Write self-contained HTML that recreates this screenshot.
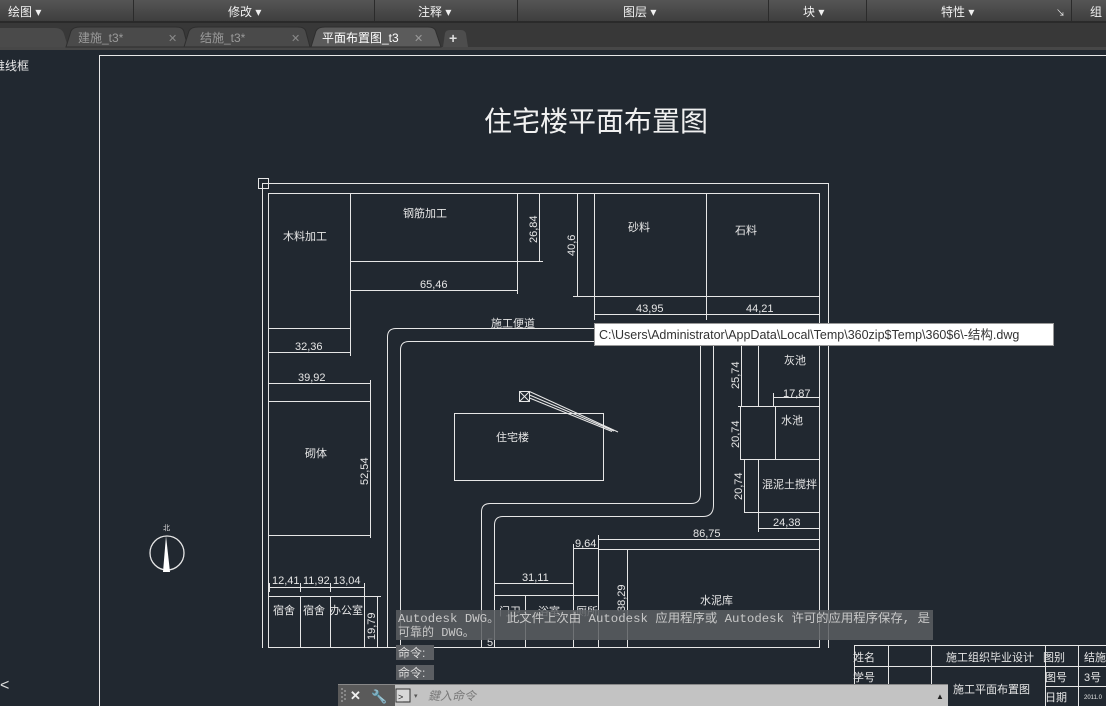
<!DOCTYPE html>
<html><head><meta charset="utf-8"><style>
html,body{margin:0;padding:0;width:1106px;height:706px;overflow:hidden;background:#212830;}
svg{display:block;}
text{font-family:"Liberation Sans","Noto Sans CJK SC",sans-serif;}
text.mono{font-family:"Liberation Mono","Noto Sans CJK SC",monospace;}
</style></head><body>
<svg width="1106" height="706" viewBox="0 0 1106 706" xmlns="http://www.w3.org/2000/svg">
<defs>
<linearGradient id="mb" x1="0" y1="0" x2="0" y2="1"><stop offset="0" stop-color="#555"/><stop offset="1" stop-color="#3d3d3d"/></linearGradient>
</defs>
<rect x="0" y="0" width="1106" height="22" fill="url(#mb)"/>
<rect x="0" y="21" width="1106" height="2" fill="#2a2a2a"/>
<g stroke="#2b2b2b" stroke-width="1">
<line x1="133.5" y1="0" x2="133.5" y2="21"/><line x1="374.5" y1="0" x2="374.5" y2="21"/><line x1="517.5" y1="0" x2="517.5" y2="21"/><line x1="768.5" y1="0" x2="768.5" y2="21"/><line x1="866.5" y1="0" x2="866.5" y2="21"/><line x1="1071.5" y1="0" x2="1071.5" y2="21"/>
</g>
<g fill="#f0f0f0" font-size="12">
<text x="8" y="16">绘图 ▾</text><text x="228" y="16">修改 ▾</text><text x="418" y="16">注释 ▾</text><text x="623" y="16">图层 ▾</text><text x="803" y="16">块 ▾</text><text x="941" y="16">特性 ▾</text><text x="1056" y="16" font-size="9">↘</text><text x="1090" y="16">组</text>
</g>
<rect x="0" y="23" width="1106" height="27" fill="#383838"/>
<rect x="0" y="47" width="1106" height="3" fill="#474747"/>
<path d="M0 28 H55 Q62 28 64 34 L68 47 H0Z" fill="#4a4a4a"/>
<path d="M66 47 L71 31 Q73 27 80 27 H176 Q183 27 184 32 L188 47Z" fill="#4a4a4a" stroke="#2e2e2e"/>
<path d="M184 47 L189 31 Q191 27 198 27 H298 Q305 27 306 32 L310 47Z" fill="#4a4a4a" stroke="#2e2e2e"/>
<path d="M311 47 L316 31 Q318 27 325 27 H428 Q435 27 436 32 L441 47Z" fill="#5b5b5b" stroke="#2e2e2e"/>
<path d="M443 47 L445 33 Q446 30 450 30 H461 Q465 30 466 34 L468 47Z" fill="#4d4d4d"/>
<g font-size="12">
<text x="78" y="42" fill="#9a9a9a">建施_t3*</text><text x="168" y="42" fill="#8a8a8a" font-size="11">✕</text>
<text x="200" y="42" fill="#9a9a9a">结施_t3*</text><text x="291" y="42" fill="#8a8a8a" font-size="11">✕</text>
<text x="322" y="42" fill="#ffffff">平面布置图_t3</text><text x="414" y="42" fill="#9a9a9a" font-size="11">✕</text>
<text x="449" y="43" fill="#dddddd" font-size="14" font-weight="bold">+</text>
</g>
<path d="M99.5 706 V55.5 H1106" fill="none" stroke="#e8e8e8"/>
<text x="-7" y="70" fill="#e8e8e8" font-size="12">维线框</text>
<text x="0" y="690" fill="#dddddd" font-size="16">&lt;</text>
<text x="596" y="131" fill="#f0f0f0" font-size="28" text-anchor="middle">住宅楼平面布置图</text>

<g stroke="#e6e6e6" stroke-width="1" fill="none">
<rect x="258.5" y="178.5" width="10" height="10"/>
<path d="M262.5 648 V183.5 H828.5 V648"/>
<rect x="268.5" y="193.5" width="551" height="454"/>
<rect x="268.5" y="193.5" width="82" height="135"/>
<rect x="350.5" y="193.5" width="167" height="68"/>
<path d="M350.5 261 V294 M517.5 261 V294 M350.5 290.5 H517.5"/>
<path d="M517.5 261.5 H543 M539.5 193.5 V261.5"/>
<path d="M573 296.5 H594 M577.5 193.5 V296.5"/>
<rect x="594.5" y="193.5" width="112" height="103"/>
<rect x="706.5" y="193.5" width="113" height="103"/>
<path d="M594.5 296 V320 M706.5 296 V320 M594.5 314.5 H819.5"/>
<path d="M350.5 328 V356 M268.5 352.5 H350.5"/>
<path d="M268.5 383.5 H370.5 M370.5 380 V538"/>
<rect x="268.5" y="401.5" width="102" height="134"/>
<path d="M268.5 596.5 H364.5 V647 M300.5 596.5 V647 M330.5 596.5 V647 M364.5 583 V600 M268.5 587.5 H364.5 M300.5 583 V592 M330.5 583 V592 M269.5 583 V592"/>
<path d="M364.5 596.5 H381 M377.5 596.5 V647"/>
<path d="M387.5 648 V337 Q387.5 328.5 396 328.5 H713.5 V505 Q713.5 516.5 703 516.5 H503 Q494.5 516.5 494.5 525 V648"/>
<path d="M400.5 648 V350 Q400.5 341.5 409 341.5 H700.5 V494 Q700.5 503.5 691 503.5 H490 Q481.5 503.5 481.5 512 V648"/>
<rect x="454.5" y="413.5" width="149" height="67"/>
<rect x="519.5" y="391.5" width="10" height="10"/>
<path d="M519.5 391.5 L529.5 401.5 M529.5 391.5 L519.5 401.5"/>
<path d="M529.5 391.5 L618 432 M529.5 395 L614 431 M529.5 398 L612 431.5"/>
<rect x="758.5" y="333" width="61" height="73.5"/>
<path d="M741.5 338 V406.5 M738 406.5 H758.5 M773.5 393 V406 M773.5 397.5 H819.5"/>
<rect x="740.5" y="406.5" width="79" height="53"/>
<path d="M775.5 406.5 V459.5"/>
<rect x="758.5" y="459.5" width="61" height="53"/>
<path d="M744.5 459.5 V512.5 H758.5 M758.5 512 V532 M758.5 528.5 H819.5"/>
<path d="M598.5 535 V648 M598.5 539.5 H819.5 M598.5 549.5 H819.5 M627.5 549.5 V647"/>
<path d="M573.5 544 V596 M573.5 548.5 H598.5"/>
<path d="M494.5 579 V596 M494.5 583.5 H573.5"/>
<path d="M494.5 595.5 H598.5 M525.5 595.5 V647 M573.5 595.5 V647"/>
<path d="M470 647.5 H505"/>
</g>
<circle cx="167" cy="553" r="17" fill="none" stroke="#e6e6e6" stroke-width="1.3"/>
<path d="M166 536 L170 572 H163Z" fill="#fff"/>
<text x="163" y="530" fill="#ddd" font-size="7">北</text>

<g fill="#e6e6e6" font-size="11">
<text x="283" y="240">木料加工</text>
<text x="403" y="217">钢筋加工</text>
<text x="628" y="231">砂料</text>
<text x="735" y="234">石料</text>
<text x="420" y="288">65,46</text>
<text x="295" y="350">32,36</text>
<text x="298" y="381">39,92</text>
<text x="636" y="312">43,95</text>
<text x="746" y="312">44,21</text>
<text x="491" y="327">施工便道</text>
<text x="305" y="457">砌体</text>
<text x="496" y="441">住宅楼</text>
<text x="784" y="364">灰池</text>
<text x="783" y="397">17,87</text>
<text x="781" y="424">水池</text>
<text x="762" y="488">混泥土搅拌</text>
<text x="773" y="526">24,38</text>
<text x="693" y="537">86,75</text>
<text x="575" y="547">9,64</text>
<text x="522" y="581">31,11</text>
<text x="700" y="604">水泥库</text>
<text x="272" y="584">12,41</text>
<text x="303" y="584">11,92</text>
<text x="333" y="584">13,04</text>
<text x="273" y="614">宿舍</text>
<text x="303" y="614">宿舍</text>
<text x="330" y="614">办公室</text>
<text x="499" y="615">门卫</text>
<text x="538" y="615">浴室</text>
<text x="576" y="615">厕所</text>
<text x="487" y="646">5</text>
<text transform="translate(537,243) rotate(-90)">26,84</text>
<text transform="translate(575,256) rotate(-90)">40,6</text>
<text transform="translate(368,485) rotate(-90)">52,54</text>
<text transform="translate(375,640) rotate(-90)">19,79</text>
<text transform="translate(739,389) rotate(-90)">25,74</text>
<text transform="translate(739,448) rotate(-90)">20,74</text>
<text transform="translate(742,500) rotate(-90)">20,74</text>
<text transform="translate(625,612) rotate(-90)">38,29</text>
</g>

<rect x="594.5" y="323.5" width="459" height="22" fill="#ffffff" stroke="#999"/>
<text x="599" y="339" fill="#333" font-size="12.5">C:\Users\Administrator\AppData\Local\Temp\360zip$Temp\360$6\-结构.dwg</text>

<rect x="396" y="610" width="537" height="30" fill="#5b5e62" opacity="0.85"/>
<text class="mono" x="398" y="622" fill="#c8c8c8" font-size="12" textLength="532" lengthAdjust="spacingAndGlyphs">Autodesk DWG。 此文件上次由 Autodesk 应用程序或 Autodesk 许可的应用程序保存, 是</text>
<text class="mono" x="398" y="636" fill="#c8c8c8" font-size="12">可靠的 DWG。</text>
<rect x="396" y="645" width="38" height="15" fill="#5b5e62"/>
<rect x="396" y="665" width="38" height="15" fill="#5b5e62"/>
<text x="398" y="657" fill="#dcdcdc" font-size="12">命令:</text>
<text x="398" y="677" fill="#dcdcdc" font-size="12">命令:</text>

<g stroke="#e6e6e6" fill="none">
<path d="M854.5 645.5 H1106 M854.5 666.5 H931 M1045 666.5 H1106 M854.5 686.5 H931 M1045 686.5 H1106 M854.5 645 V706 M888.5 645 V706 M931.5 645 V706 M1045.5 645 V706 M1078.5 645 V706 M931 666.5 H1045"/>
</g>
<g fill="#e6e6e6" font-size="11">
<text x="853" y="661">姓名</text><text x="946" y="661">施工组织毕业设计</text><text x="1043" y="661">图别</text><text x="1084" y="661">结施</text>
<text x="853" y="681">学号</text><text x="1045" y="681">图号</text><text x="1084" y="681">3号</text>
<text x="953" y="693">施工平面布置图</text><text x="1045" y="701">日期</text><text x="1084" y="699" font-size="6">2011.0</text>
</g>

<rect x="338" y="684" width="610" height="22" fill="#c3c3c3"/>
<rect x="338" y="684" width="57" height="22" fill="#5a5a5a"/>
<rect x="338" y="684" width="610" height="1" fill="#888"/>
<g fill="#888"><rect x="341" y="688" width="2" height="2"/><rect x="341" y="692" width="2" height="2"/><rect x="341" y="696" width="2" height="2"/><rect x="341" y="700" width="2" height="2"/><rect x="344" y="690" width="2" height="2"/><rect x="344" y="694" width="2" height="2"/><rect x="344" y="698" width="2" height="2"/></g>
<text x="350" y="700" fill="#eee" font-size="13" font-weight="bold">✕</text>
<text x="371" y="701" fill="#eee" font-size="13">🔧</text>
<rect x="396" y="689" width="14" height="13" fill="#d8d8d8" stroke="#333"/>
<text x="398" y="700" fill="#222" font-size="9">&gt;_</text>
<text x="414" y="698" fill="#555" font-size="7">▾</text>
<text x="428" y="700" fill="#7a7a7a" font-size="12" font-style="italic">鍵入命令</text>
<text x="936" y="699" fill="#222" font-size="8">▲</text>
</svg>
</body></html>
